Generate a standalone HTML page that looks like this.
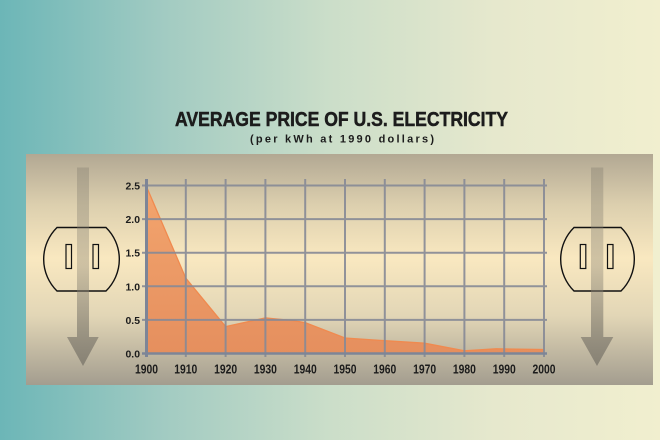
<!DOCTYPE html>
<html>
<head>
<meta charset="utf-8">
<style>
  html,body{margin:0;padding:0;}
  body{width:660px;height:440px;overflow:hidden;}
  svg{display:block;}
  text{font-family:"Liberation Sans",Arial,sans-serif;font-weight:bold;fill:#1c1c1c;}
</style>
</head>
<body>
<svg width="660" height="440" viewBox="0 0 660 440" xmlns="http://www.w3.org/2000/svg">
  <defs>
    <linearGradient id="bg" x1="0" y1="0" x2="1" y2="0">
      <stop offset="0" stop-color="#6cb6b7"/>
      <stop offset="0.25" stop-color="#a2cbc2"/>
      <stop offset="0.5" stop-color="#cbdec9"/>
      <stop offset="0.75" stop-color="#e6e8cd"/>
      <stop offset="1" stop-color="#f1efcf"/>
    </linearGradient>
    <linearGradient id="panel" x1="0" y1="0" x2="0" y2="1">
      <stop offset="0" stop-color="#b2a893"/>
      <stop offset="0.22" stop-color="#dccfae"/>
      <stop offset="0.45" stop-color="#f9e8c0"/>
      <stop offset="0.7" stop-color="#e2d6b6"/>
      <stop offset="1" stop-color="#a39d8f"/>
    </linearGradient>
    <linearGradient id="arrow" x1="0" y1="167" x2="0" y2="366" gradientUnits="userSpaceOnUse">
      <stop offset="0" stop-color="#847e70" stop-opacity="0.38"/>
      <stop offset="0.5" stop-color="#847e70" stop-opacity="0.36"/>
      <stop offset="1" stop-color="#7f7a6e" stop-opacity="0.85"/>
    </linearGradient>
    <linearGradient id="area" x1="0" y1="185" x2="0" y2="354" gradientUnits="userSpaceOnUse">
      <stop offset="0" stop-color="#f3a56e"/>
      <stop offset="1" stop-color="#e58f5e"/>
    </linearGradient>
  </defs>

  <rect x="0" y="0" width="660" height="440" fill="url(#bg)"/>

  <text x="341.5" y="126" font-size="20" text-anchor="middle" textLength="333" lengthAdjust="spacingAndGlyphs" stroke="#1c1c1c" stroke-width="0.5">AVERAGE PRICE OF U.S. ELECTRICITY</text>
  <text x="342" y="142.5" font-size="11" text-anchor="middle" textLength="184" lengthAdjust="spacing">(per kWh at 1990 dollars)</text>

  <rect x="26" y="154" width="627" height="231" fill="url(#panel)"/>

  <!-- left plug -->
  <path d="M57,227.5 L106,227.5 A44.5,44.5 0 0 1 106,291 L57,291 A44.5,44.5 0 0 1 57,227.5 Z" fill="none" stroke="#111" stroke-width="1.4"/>
  <rect x="66" y="244.5" width="5.5" height="24" fill="none" stroke="#111" stroke-width="1.2"/>
  <rect x="93" y="244.5" width="5.5" height="24" fill="none" stroke="#111" stroke-width="1.2"/>
  <path d="M77,167.5 L89,167.5 L89,337 L98.7,337 L83,366 L67,337 L77,337 Z" fill="url(#arrow)"/>

  <!-- right plug -->
  <path d="M574,227.5 L621,227.5 A44.5,44.5 0 0 1 621,291 L574,291 A44.5,44.5 0 0 1 574,227.5 Z" fill="none" stroke="#111" stroke-width="1.4"/>
  <rect x="580.3" y="244.5" width="5.5" height="24" fill="none" stroke="#111" stroke-width="1.2"/>
  <rect x="607.5" y="244.5" width="5.5" height="24" fill="none" stroke="#111" stroke-width="1.2"/>
  <path d="M591,167.5 L603.3,167.5 L603.3,337 L613.3,337 L597,366 L580.7,337 L591,337 Z" fill="url(#arrow)"/>

  <!-- area -->
  <path d="M146,353.5 L146,185.5 L185.8,278.2 L225.6,326.6 L265.4,317.9 L293.3,320.6 L305.2,322.6 L345,338 L384.8,340.7 L424.6,343.2 L464.4,350.8 L496.2,348.8 L544,349.5 L544,353.5 Z" fill="url(#area)"/>
  <path d="M146,185.5 L185.8,278.2 L225.6,326.6 L265.4,317.9 L293.3,320.6 L305.2,322.6 L345,338 L384.8,340.7 L424.6,343.2 L464.4,350.8 L496.2,348.8 L544,349.5" fill="none" stroke="#f08a4f" stroke-width="1.3"/>

  <!-- grid -->
  <g stroke="#878a96" stroke-width="2" opacity="0.9">
    <line x1="185.8" y1="179" x2="185.8" y2="357"/>
    <line x1="225.6" y1="179" x2="225.6" y2="357"/>
    <line x1="265.4" y1="179" x2="265.4" y2="357"/>
    <line x1="305.2" y1="179" x2="305.2" y2="357"/>
    <line x1="345" y1="179" x2="345" y2="357"/>
    <line x1="384.8" y1="179" x2="384.8" y2="357"/>
    <line x1="424.6" y1="179" x2="424.6" y2="357"/>
    <line x1="464.4" y1="179" x2="464.4" y2="357"/>
    <line x1="504.2" y1="179" x2="504.2" y2="357"/>
    <line x1="544" y1="179" x2="544" y2="357"/>
    <line x1="142" y1="185.5" x2="547" y2="185.5"/>
    <line x1="142" y1="219.1" x2="547" y2="219.1"/>
    <line x1="142" y1="252.7" x2="547" y2="252.7"/>
    <line x1="142" y1="286.3" x2="547" y2="286.3"/>
    <line x1="142" y1="319.9" x2="547" y2="319.9"/>
  </g>
  <line x1="142" y1="353.5" x2="547" y2="353.5" stroke="#7d8597" stroke-width="2.6"/>
  <line x1="146.5" y1="179" x2="146.5" y2="357" stroke="#7d8597" stroke-width="3"/>

  <!-- y labels -->
  <g font-size="10.5" text-anchor="end">
    <text x="140" y="189.5" textLength="14.5" lengthAdjust="spacingAndGlyphs">2.5</text>
    <text x="140" y="223.1" textLength="14.5" lengthAdjust="spacingAndGlyphs">2.0</text>
    <text x="140" y="256.7" textLength="14.5" lengthAdjust="spacingAndGlyphs">1.5</text>
    <text x="140" y="290.3" textLength="14.5" lengthAdjust="spacingAndGlyphs">1.0</text>
    <text x="140" y="323.9" textLength="14.5" lengthAdjust="spacingAndGlyphs">0.5</text>
    <text x="140" y="357.3" textLength="14.5" lengthAdjust="spacingAndGlyphs">0.0</text>
  </g>

  <!-- x labels -->
  <g font-size="13" text-anchor="middle">
    <text x="146.5" y="373.3" textLength="23" lengthAdjust="spacingAndGlyphs">1900</text>
    <text x="185.8" y="373.3" textLength="23" lengthAdjust="spacingAndGlyphs">1910</text>
    <text x="225.6" y="373.3" textLength="23" lengthAdjust="spacingAndGlyphs">1920</text>
    <text x="265.4" y="373.3" textLength="23" lengthAdjust="spacingAndGlyphs">1930</text>
    <text x="305.2" y="373.3" textLength="23" lengthAdjust="spacingAndGlyphs">1940</text>
    <text x="345" y="373.3" textLength="23" lengthAdjust="spacingAndGlyphs">1950</text>
    <text x="384.8" y="373.3" textLength="23" lengthAdjust="spacingAndGlyphs">1960</text>
    <text x="424.6" y="373.3" textLength="23" lengthAdjust="spacingAndGlyphs">1970</text>
    <text x="464.4" y="373.3" textLength="23" lengthAdjust="spacingAndGlyphs">1980</text>
    <text x="504.2" y="373.3" textLength="23" lengthAdjust="spacingAndGlyphs">1990</text>
    <text x="544" y="373.3" textLength="23" lengthAdjust="spacingAndGlyphs">2000</text>
  </g>
</svg>
</body>
</html>
